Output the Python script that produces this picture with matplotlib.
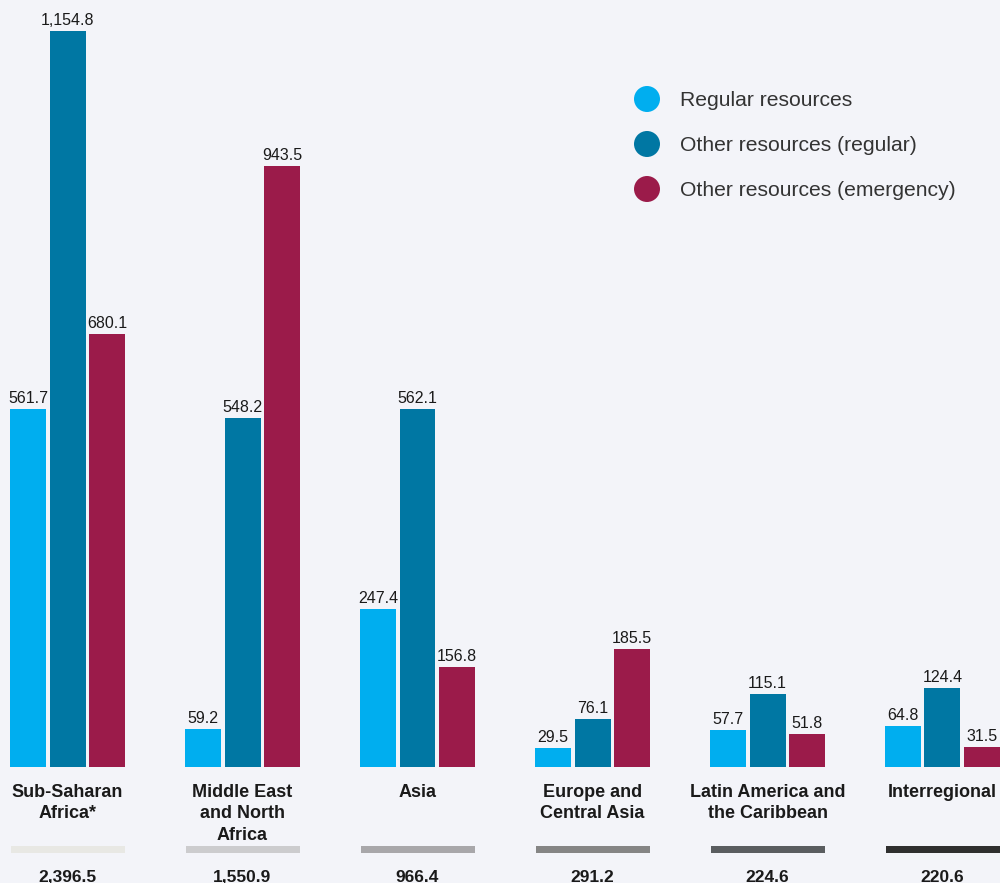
import matplotlib
matplotlib.use("Agg")
import matplotlib.pyplot as plt
from matplotlib import font_manager as fm
import numpy as np

categories = ["Sub-Saharan\nAfrica*", "Middle East\nand North\nAfrica", "Asia",
              "Europe and\nCentral Asia", "Latin America and\nthe Caribbean", "Interregional"]
regular = [561.7, 59.2, 247.4, 29.5, 57.7, 64.8]
other_regular = [1154.8, 548.2, 562.1, 76.1, 115.1, 124.4]
other_emergency = [680.1, 943.5, 156.8, 185.5, 51.8, 31.5]
totals = ["2,396.5", "1,550.9", "966.4", "291.2", "224.6", "220.6"]
series_names = ["Regular resources", "Other resources (regular)", "Other resources (emergency)"]

colors = ["#00AEEF", "#0077A3", "#9B1B4A"]
total_bar_colors = ["#E8E8E4", "#CCCCCE", "#A8A7AA", "#858585", "#5A5D60", "#2F2F2F"]
bg = "#F3F4F9"

names = {f.name for f in fm.fontManager.ttflist}
narrow = "Liberation Sans Narrow" if "Liberation Sans Narrow" in names else "Liberation Sans"

fig = plt.figure(figsize=(10, 8.83), dpi=100, facecolor=bg)
ax = fig.add_axes([0, 0, 1, 1])
ax.set_facecolor(bg)
for s in ax.spines.values():
    s.set_visible(False)
ax.set_xticks([])
ax.set_yticks([])

px = 0.6373  # pixels per unit
ax.set_ylim(-(883 - 767) / px, 767 / px)
gsp = 175.0
ax.set_xlim(-67.5 / gsp, (1000 - 67.5) / gsp)

x = np.arange(len(categories))
w = 36 / gsp
off = 39.5 / gsp
for k, (vals, c) in enumerate(zip([regular, other_regular, other_emergency], colors)):
    xs = x + (k - 1) * off
    ax.bar(xs, vals, width=w, color=c, edgecolor="none", zorder=2)
    for xi, v in zip(xs, vals):
        lab = f"{v:,.1f}"
        ax.text(xi, v + 3 / px, lab, ha="center", va="bottom", fontsize=11.5,
                family=narrow, color="#1a1a1a")

for xi, cat, tot, tc in zip(x, categories, totals, total_bar_colors):
    ax.text(xi, -17 / px, cat, ha="center", va="top", fontsize=13, fontweight="bold",
            family="Liberation Sans", color="#1a1a1a", linespacing=1.33)
    ax.bar(xi, -7 / px, bottom=-79 / px, width=114 / gsp, color=tc, edgecolor="none")
    ax.text(xi, -103 / px, tot, ha="center", va="top", fontsize=12.5, fontweight="bold",
            family="Liberation Sans", color="#1a1a1a")

# legend
for i, (name, c) in enumerate(zip(series_names, colors)):
    yf = 1 - (99 + 45 * i) / 883
    ax.scatter([647 / 1000], [yf], s=(26 / 1.389) ** 2, color=c, transform=ax.transAxes,
               clip_on=False, edgecolors="none")
    ax.text(680 / 1000, yf - 1.5 / 883, name, transform=ax.transAxes, ha="left", va="center",
            fontsize=15.2, family="Liberation Sans", color="#333333")

fig.savefig("out.png", dpi=100, facecolor=bg)
